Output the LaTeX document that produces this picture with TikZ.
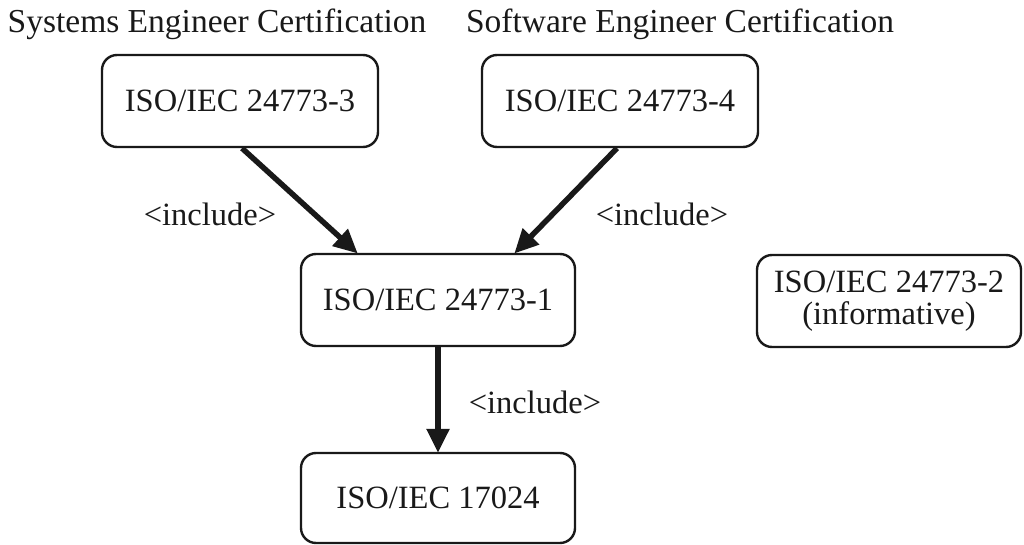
\documentclass[tikz,border=0pt]{standalone}
\usepackage{fontspec}
\setmainfont{Liberation Serif}
\usetikzlibrary{arrows.meta,calc}
\begin{document}
\begin{tikzpicture}[x=1pt,y=-1pt,
  box/.style={draw=black!90, line width=2.4pt, rounded corners=15pt, align=center, inner sep=0pt, font=\fontsize{32.5}{36}\selectfont, text=black!90},
  lbl/.style={inner sep=0pt, font=\fontsize{32.5}{36}\selectfont, text=black!90},
  hdr/.style={inner sep=0pt, font=\fontsize{33.5}{36}\selectfont, text=black!90},
  arr/.style={draw=black!90, line width=5.5pt, -{Triangle[length=24pt,width=22pt]}, shorten >=-1pt}]
\useasboundingbox (0,0) rectangle (1024,545);
\node[hdr] (h1) at (217,24) {Systems Engineer Certification};
\node[hdr] (h2) at (680,24) {Software Engineer Certification};
\node[box, minimum width=276pt, minimum height=92pt] (b3) at (240,101) {ISO/IEC 24773-3};
\node[box, minimum width=276pt, minimum height=92pt] (b4) at (620,101) {ISO/IEC 24773-4};
\node[box, minimum width=274pt, minimum height=92pt] (b1) at (438,300) {ISO/IEC 24773-1};
\node[box, minimum width=264pt, minimum height=92pt] (b2) at (889,301) {ISO/IEC 24773-2\\[-4pt](informative)};
\node[box, minimum width=274pt, minimum height=90pt] (b0) at (438,498) {ISO/IEC 17024};
\draw[arr] ([xshift=2pt]b3.south) -- ([xshift=-81pt]b1.north);
\draw[arr] ([xshift=-3pt]b4.south) -- ([xshift=77pt]b1.north);
\draw[arr] (b1.south) -- (b0.north);
\node[lbl] (l1) at (210,214) {<include>};
\node[lbl] (l2) at (662,214) {<include>};
\node[lbl] (l3) at (535,402) {<include>};
\end{tikzpicture}
\end{document}
